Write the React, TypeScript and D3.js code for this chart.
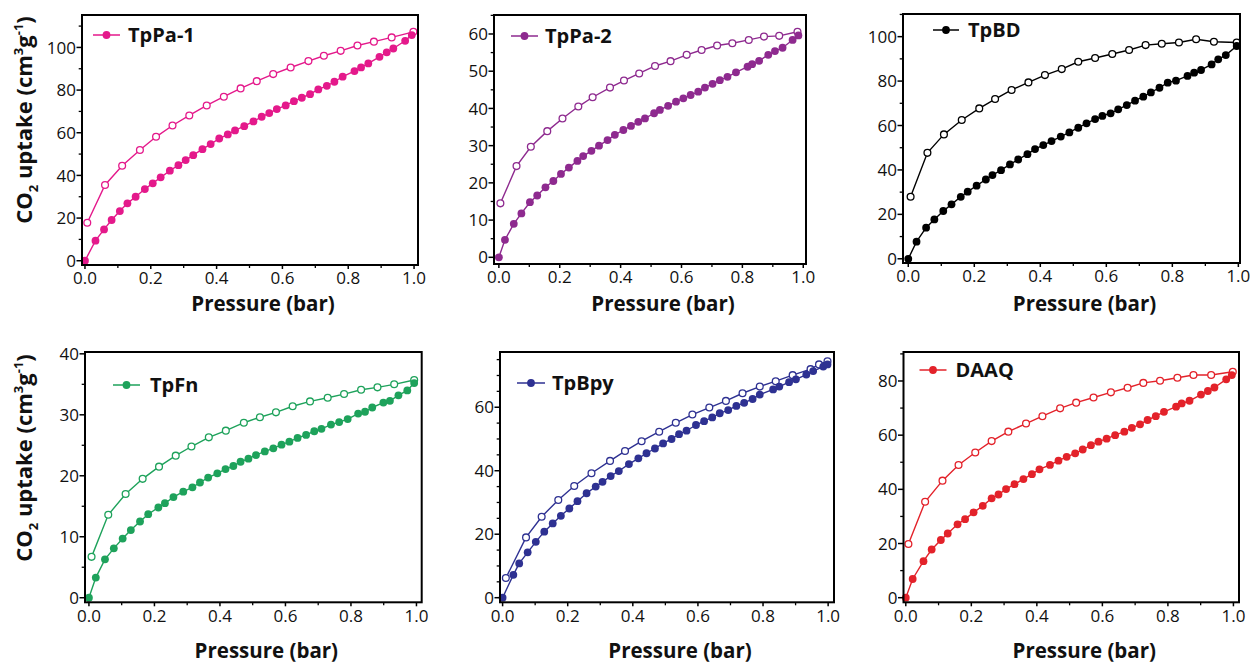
import React from "react";
import * as d3 from "d3";

const FONT = "'Open Sans', 'Noto Sans', sans-serif";

type Pt = [number, number];

// x axis (pressure, bar)
const xTicks = [0, 0.2, 0.4, 0.6, 0.8, 1.0];
const xTickLabels = ["0.0", "0.2", "0.4", "0.6", "0.8", "1.0"];
const xMinorTicks = [0.1, 0.3, 0.5, 0.7, 0.9];

// ---- TpPa-1 ----
const tppa1Ads: Pt[] = [
  [0, 0], [0.032, 9.4], [0.058, 14.7], [0.081, 19.1], [0.106, 23.3], [0.129, 26.9], [0.154, 30.0],
  [0.182, 33.6], [0.206, 36.3], [0.23, 39.1], [0.258, 42.2], [0.284, 44.8], [0.306, 47.2], [0.329, 49.5],
  [0.357, 52.3], [0.382, 54.7], [0.408, 57.3], [0.434, 59.2], [0.456, 61.1], [0.484, 63.1], [0.512, 65.3],
  [0.537, 67.5], [0.56, 69.2], [0.583, 71.1], [0.61, 72.8], [0.635, 74.8], [0.659, 76.4], [0.684, 78.1],
  [0.709, 80.3], [0.735, 82.0], [0.758, 83.9], [0.783, 86.3], [0.819, 88.9], [0.839, 90.6], [0.861, 92.5],
  [0.895, 95.6], [0.917, 97.7], [0.937, 99.5], [0.973, 103.1], [0.993, 105.8],
];
const tppa1Des: Pt[] = [
  [0.007, 17.8], [0.061, 35.5], [0.113, 44.5], [0.167, 51.9], [0.216, 58.1], [0.266, 63.4], [0.317, 68.1],
  [0.37, 72.8], [0.422, 76.9], [0.473, 80.8], [0.522, 84.2], [0.572, 87.5], [0.625, 90.6], [0.679, 93.6],
  [0.726, 96.1], [0.777, 98.4], [0.828, 100.9], [0.878, 102.7], [0.932, 104.7], [0.998, 107.3],
];
const tppa1YTicks = [0, 20, 40, 60, 80, 100];

// ---- TpPa-2 ----
const tppa2Ads: Pt[] = [
  [0, 0], [0.02, 4.7], [0.049, 9.0], [0.074, 11.8], [0.102, 14.8], [0.126, 16.6], [0.153, 18.8],
  [0.179, 20.5], [0.204, 22.4], [0.23, 24.1], [0.258, 25.9], [0.277, 27.2], [0.304, 28.6], [0.329, 30.0],
  [0.357, 31.5], [0.381, 32.9], [0.409, 34.2], [0.434, 35.3], [0.458, 36.4], [0.48, 37.3], [0.51, 38.7],
  [0.529, 39.6], [0.556, 40.7], [0.582, 41.8], [0.606, 42.7], [0.63, 43.6], [0.655, 44.5], [0.677, 45.6],
  [0.702, 46.6], [0.726, 47.6], [0.751, 48.5], [0.779, 49.7], [0.817, 51.2], [0.832, 51.9], [0.855, 52.8],
  [0.885, 54.4], [0.907, 55.4], [0.932, 56.3], [0.965, 58.4], [0.984, 59.6],
];
const tppa2Des: Pt[] = [
  [0.005, 14.5], [0.058, 24.5], [0.105, 29.7], [0.159, 33.9], [0.209, 37.3], [0.261, 40.5], [0.308, 43.0],
  [0.365, 45.6], [0.411, 47.5], [0.461, 49.4], [0.513, 51.4], [0.564, 52.7], [0.617, 54.4], [0.666, 55.7],
  [0.717, 56.9], [0.767, 57.5], [0.821, 58.4], [0.871, 59.3], [0.921, 59.5], [0.981, 60.6],
];
const tppa2YTicks = [0, 10, 20, 30, 40, 50, 60];

// ---- TpBD ----
const tpbdAds: Pt[] = [
  [0, 0], [0.025, 7.7], [0.054, 14.0], [0.079, 17.7], [0.106, 21.5], [0.131, 24.5], [0.159, 27.9],
  [0.18, 30.2], [0.207, 32.9], [0.235, 35.7], [0.255, 37.7], [0.281, 39.9], [0.308, 42.5], [0.333, 44.7],
  [0.361, 47.1], [0.384, 49.4], [0.409, 51.2], [0.434, 53.0], [0.462, 55.0], [0.488, 56.9], [0.515, 59.0],
  [0.54, 61.0], [0.566, 62.9], [0.588, 64.3], [0.613, 65.5], [0.636, 67.3], [0.662, 69.2], [0.687, 71.2],
  [0.712, 73.0], [0.735, 74.9], [0.761, 77.0], [0.786, 79.3], [0.811, 80.2], [0.846, 82.3], [0.866, 83.8],
  [0.887, 85.0], [0.919, 87.5], [0.939, 89.8], [0.962, 91.7], [0.995, 95.8],
];
const tpbdDes: Pt[] = [
  [0.007, 27.9], [0.058, 47.7], [0.108, 56.0], [0.162, 62.5], [0.215, 67.7], [0.263, 71.9], [0.313, 76.0],
  [0.364, 79.4], [0.414, 82.7], [0.465, 85.4], [0.515, 88.7], [0.566, 90.4], [0.618, 92.2], [0.669, 94.0],
  [0.719, 96.2], [0.768, 96.8], [0.82, 97.4], [0.872, 98.8], [0.926, 97.7], [0.995, 97.4],
];
const tpbdYTicks = [0, 20, 40, 60, 80, 100];

// ---- TpFn ----
const tpfnAds: Pt[] = [
  [0, 0], [0.021, 3.3], [0.049, 6.3], [0.076, 8.1], [0.103, 9.7], [0.128, 11.1], [0.156, 12.5],
  [0.181, 13.7], [0.212, 14.8], [0.232, 15.5], [0.258, 16.5], [0.288, 17.4], [0.316, 18.1], [0.339, 18.9],
  [0.364, 19.7], [0.392, 20.4], [0.417, 21.1], [0.441, 21.6], [0.463, 22.3], [0.487, 22.8], [0.51, 23.4],
  [0.537, 24.0], [0.563, 24.5], [0.588, 25.1], [0.612, 25.6], [0.637, 26.2], [0.663, 26.7], [0.688, 27.3],
  [0.71, 27.7], [0.739, 28.4], [0.764, 28.8], [0.79, 29.3], [0.822, 30.2], [0.843, 30.5], [0.865, 31.2],
  [0.899, 32.0], [0.919, 32.3], [0.945, 33.2], [0.972, 34.0], [0.993, 35.2],
];
const tpfnDes: Pt[] = [
  [0.008, 6.7], [0.059, 13.6], [0.112, 17.0], [0.164, 19.5], [0.214, 21.5], [0.265, 23.3], [0.313, 24.8],
  [0.366, 26.3], [0.418, 27.4], [0.473, 28.7], [0.522, 29.6], [0.571, 30.4], [0.622, 31.4], [0.675, 32.2],
  [0.729, 32.8], [0.779, 33.4], [0.831, 34.1], [0.881, 34.5], [0.932, 35.0], [0.993, 35.7],
];
const tpfnYTicks = [0, 10, 20, 30, 40];

// ---- TpBpy ----
const tpbpyAds: Pt[] = [
  [0, 0], [0.033, 7.2], [0.051, 10.8], [0.077, 14.3], [0.102, 17.6], [0.128, 20.8], [0.154, 23.4],
  [0.179, 25.8], [0.205, 28.1], [0.23, 30.4], [0.258, 32.9], [0.286, 35.0], [0.307, 36.5], [0.332, 38.3],
  [0.357, 39.9], [0.388, 42.1], [0.417, 43.9], [0.442, 45.5], [0.468, 47.0], [0.493, 48.6], [0.519, 50.0],
  [0.542, 51.5], [0.565, 52.6], [0.594, 54.4], [0.619, 55.6], [0.644, 56.8], [0.667, 58.1], [0.693, 59.1],
  [0.718, 60.4], [0.742, 61.4], [0.768, 62.6], [0.79, 64.0], [0.831, 65.6], [0.85, 66.5], [0.88, 67.9],
  [0.901, 68.8], [0.933, 70.3], [0.954, 71.4], [0.985, 72.8], [0.998, 73.5],
];
const tpbpyDes: Pt[] = [
  [0.01, 6.2], [0.072, 19.0], [0.12, 25.5], [0.171, 30.8], [0.22, 35.2], [0.273, 39.2], [0.33, 43.1],
  [0.376, 46.2], [0.427, 49.3], [0.481, 52.3], [0.532, 55.1], [0.583, 57.7], [0.635, 59.9], [0.686, 62.0],
  [0.737, 64.4], [0.79, 66.5], [0.839, 68.2], [0.891, 70.1], [0.946, 72.0], [0.972, 73.5], [0.998, 74.5],
];
const tpbpyYTicks = [0, 20, 40, 60];

// ---- DAAQ ----
const daaqAds: Pt[] = [
  [0, 0], [0.021, 6.9], [0.054, 13.5], [0.079, 17.8], [0.107, 21.3], [0.128, 23.7], [0.158, 27.1],
  [0.181, 29.0], [0.207, 31.5], [0.235, 33.9], [0.262, 36.7], [0.283, 38.1], [0.306, 40.1], [0.332, 41.9],
  [0.359, 43.8], [0.385, 45.6], [0.408, 47.4], [0.44, 49.0], [0.466, 50.6], [0.491, 52.0], [0.517, 53.3],
  [0.54, 54.7], [0.565, 56.3], [0.588, 57.6], [0.613, 58.7], [0.639, 60.0], [0.667, 61.3], [0.69, 62.7],
  [0.715, 64.0], [0.738, 65.6], [0.763, 67.0], [0.788, 68.6], [0.825, 70.5], [0.842, 71.7], [0.866, 72.7],
  [0.901, 75.0], [0.922, 76.3], [0.942, 77.6], [0.978, 80.6], [0.995, 82.2],
];
const daaqDes: Pt[] = [
  [0.008, 19.8], [0.059, 35.4], [0.112, 43.2], [0.161, 49.0], [0.212, 53.6], [0.262, 57.8], [0.313, 61.3],
  [0.367, 64.3], [0.417, 67.0], [0.471, 69.9], [0.52, 72.0], [0.573, 73.9], [0.626, 75.8], [0.677, 77.5],
  [0.725, 79.3], [0.776, 80.1], [0.829, 81.2], [0.878, 82.2], [0.932, 82.2], [0.998, 83.4],
];
const daaqYTicks = [0, 20, 40, 60, 80];

interface PanelCfg {
  name: string;
  color: string;
  ads: Pt[];
  des: Pt[];
  yTicks: number[];
  yMinorStep: number;
  frame: { L: number; R: number; T: number; B: number };
  xDomain: [number, number];
  yDomain: [number, number];
  legend: { l1: number; l2: number; tx: number; dy: number };
  yLabel: boolean;
  row: number;
}

const panels: PanelCfg[] = [
  {
    name: "TpPa-1", color: "#E4198B", ads: tppa1Ads, des: tppa1Des, yTicks: tppa1YTicks, yMinorStep: 10,
    frame: { L: 82, R: 418, T: 15, B: 265 }, xDomain: [-0.009, 1.012], yDomain: [-2.0, 115.2],
    legend: { l1: 11, l2: 38, tx: 46, dy: 20 }, yLabel: true, row: 0,
  },
  {
    name: "TpPa-2", color: "#8E2A8F", ads: tppa2Ads, des: tppa2Des, yTicks: tppa2YTicks, yMinorStep: 5,
    frame: { L: 494, R: 806, T: 15, B: 264 }, xDomain: [-0.016, 1.009], yDomain: [-1.8, 65.1],
    legend: { l1: 17, l2: 44, tx: 51, dy: 21 }, yLabel: false, row: 0,
  },
  {
    name: "TpBD", color: "#000000", ads: tpbdAds, des: tpbdDes, yTicks: tpbdYTicks, yMinorStep: 10,
    frame: { L: 903, R: 1240, T: 14, B: 263 }, xDomain: [-0.016, 1.005], yDomain: [-1.9, 110.2],
    legend: { l1: 30, l2: 56, tx: 65, dy: 16 }, yLabel: false, row: 0,
  },
  {
    name: "TpFn", color: "#1EA25B", ads: tpfnAds, des: tpfnDes, yTicks: tpfnYTicks, yMinorStep: 5,
    frame: { L: 85, R: 421.7, T: 352, B: 602.3 }, xDomain: [-0.012, 1.016], yDomain: [-0.75, 40.3],
    legend: { l1: 28, l2: 55, tx: 65, dy: 33 }, yLabel: true, row: 1,
  },
  {
    name: "TpBpy", color: "#2E3192", ads: tpbpyAds, des: tpbpyDes, yTicks: tpbpyYTicks, yMinorStep: 5,
    frame: { L: 500, R: 834, T: 352, B: 602.3 }, xDomain: [-0.008, 1.018], yDomain: [-1.45, 77.4],
    legend: { l1: 17, l2: 45, tx: 52, dy: 31 }, yLabel: false, row: 1,
  },
  {
    name: "DAAQ", color: "#E3222A", ads: daaqAds, des: daaqDes, yTicks: daaqYTicks, yMinorStep: 10,
    frame: { L: 903.5, R: 1239, T: 352, B: 602.3 }, xDomain: [-0.007, 1.017], yDomain: [-1.7, 90.7],
    legend: { l1: 16, l2: 43, tx: 52, dy: 18 }, yLabel: false, row: 1,
  },
];

function Panel({ cfg }: { cfg: PanelCfg }) {
  const { L, R, T, B } = cfg.frame;
  const x = d3.scaleLinear().domain(cfg.xDomain).range([L, R]);
  const y = d3.scaleLinear().domain(cfg.yDomain).range([B, T]);
  const line = d3.line<Pt>().x((d) => x(d[0])).y((d) => y(d[1]));
  const ads = [...cfg.ads].sort((a, b) => a[0] - b[0]);
  const des = [...cfg.des].sort((a, b) => a[0] - b[0]);
  const yMinor = d3
    .range(0, cfg.yDomain[1] + 1e-6, cfg.yMinorStep)
    .filter((v) => !cfg.yTicks.includes(v));
  const xLabelBase = cfg.row === 0 ? B + 18.5 : B + 19.4;
  const titleBase = cfg.row === 0 ? 311 : 658;
  const c = cfg.color;
  const ly = T + cfg.legend.dy;
  return (
    <g>
      {/* lines */}
      <path d={line(des) || ""} fill="none" stroke={c} strokeWidth={1.4} />
      <path d={line(ads) || ""} fill="none" stroke={c} strokeWidth={1.4} />
      {/* markers */}
      {des.map((d, i) => (
        <circle key={"d" + i} cx={x(d[0])} cy={y(d[1])} r={3.4} fill="#fff" stroke={c} strokeWidth={1.3} />
      ))}
      {ads.map((d, i) => (
        <circle key={"a" + i} cx={x(d[0])} cy={y(d[1])} r={3.9} fill={c} />
      ))}
      {/* frame */}
      <rect x={L} y={T} width={R - L} height={B - T} fill="none" stroke="#000" strokeWidth={2} />
      {/* y ticks */}
      {cfg.yTicks.map((v) => (
        <g key={"yt" + v}>
          <line x1={L - 5.5} x2={L} y1={y(v)} y2={y(v)} stroke="#000" strokeWidth={1.5} />
          <text x={L - 6} y={y(v)} dy="0.36em" textAnchor="end" fontFamily={FONT} fontSize={17} fill="#111">
            {v}
          </text>
        </g>
      ))}
      {yMinor.map((v) => (
        <line key={"ym" + v} x1={L - 3.3} x2={L} y1={y(v)} y2={y(v)} stroke="#000" strokeWidth={1.3} />
      ))}
      {/* x ticks */}
      {xTicks.map((v, i) => (
        <g key={"xt" + v}>
          <line x1={x(v)} x2={x(v)} y1={B} y2={B + 4} stroke="#000" strokeWidth={1.5} />
          <text x={x(v)} y={xLabelBase} textAnchor="middle" fontFamily={FONT} fontSize={17} fill="#111">
            {xTickLabels[i]}
          </text>
        </g>
      ))}
      {xMinorTicks.map((v) => (
        <line key={"xm" + v} x1={x(v)} x2={x(v)} y1={B} y2={B + 3} stroke="#000" strokeWidth={1.3} />
      ))}
      {/* x title */}
      <text x={(L + R) / 2 + 13} y={titleBase} textAnchor="middle" fontFamily={FONT} fontWeight="bold" fontSize={20.5} fill="#111">
        Pressure (bar)
      </text>
      {/* legend */}
      <line x1={L + cfg.legend.l1} x2={L + cfg.legend.l2} y1={ly} y2={ly} stroke={c} strokeWidth={1.5} />
      <circle cx={L + (cfg.legend.l1 + cfg.legend.l2) / 2} cy={ly} r={3.9} fill={c} />
      <text x={L + cfg.legend.tx} y={ly + 7} fontFamily={FONT} fontWeight="bold" fontSize={20} fill="#111">
        {cfg.name}
      </text>
      {/* y title */}
      {cfg.yLabel && (
        <text
          transform={`translate(32, ${cfg.row === 0 ? 120 : 458}) rotate(-90)`}
          textAnchor="middle"
          fontFamily={FONT}
          fontWeight="bold"
          fontSize={22}
          fill="#111"
        >
          CO<tspan fontSize={13} dy={6}>2</tspan>
          <tspan dy={-6}> uptake (cm</tspan>
          <tspan fontSize={13} dy={-9}>3</tspan>
          <tspan dy={9}>g</tspan>
          <tspan fontSize={13} dy={-9}>-1</tspan>
          <tspan dy={9}>)</tspan>
        </text>
      )}
    </g>
  );
}

export default function App() {
  return (
    <div style={{ position: "absolute", left: 0, top: 0, width: 1251, height: 664, background: "#fff" }}>
      <svg width={1251} height={664} style={{ display: "block" }}>
        <rect x={0} y={0} width={1251} height={664} fill="#fff" />
        {panels.map((p) => (
          <Panel key={p.name} cfg={p} />
        ))}
      </svg>
    </div>
  );
}
